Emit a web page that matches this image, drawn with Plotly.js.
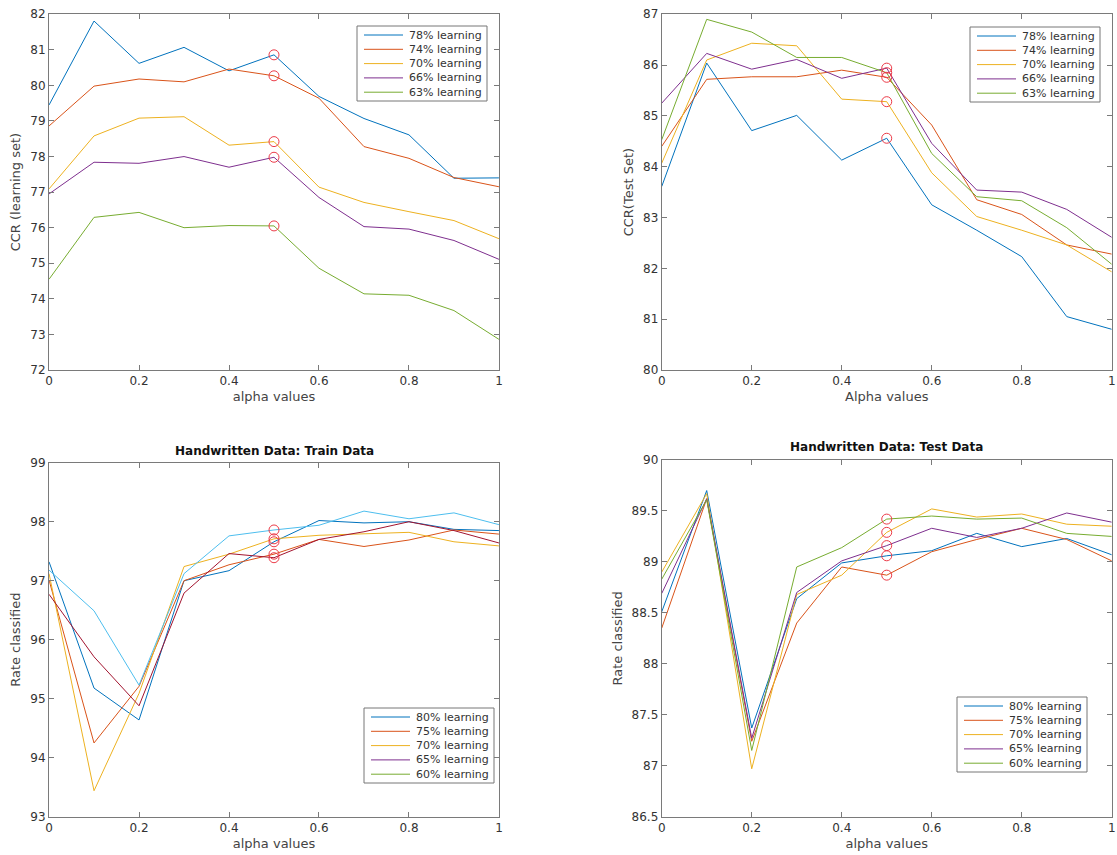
<!DOCTYPE html>
<html>
<head>
<meta charset="utf-8">
<script src="https://cdn.plot.ly/plotly-3.0.1.min.js"></script>
<style>
body { margin: 0; background: #fff; }
#chart { width: 1117px; height: 855px; }
</style>
</head>
<body>
<div id="chart"></div>
<script>
var alpha = [0, 0.1, 0.2, 0.3, 0.4, 0.5, 0.6, 0.7, 0.8, 0.9, 1];
var bestIdx = 5; // alpha = 0.5, red circles

/* CCR (learning set) */
var learnNames = ['78% learning', '74% learning', '70% learning', '66% learning', '63% learning'];
var learn78 = [79.45, 81.81, 80.62, 81.07, 80.41, 80.86, 79.69, 79.07, 78.61, 77.39, 77.40];
var learn74 = [78.86, 79.98, 80.18, 80.10, 80.46, 80.27, 79.64, 78.28, 77.95, 77.41, 77.15];
var learn70 = [77.09, 78.58, 79.08, 79.12, 78.32, 78.42, 77.14, 76.71, 76.45, 76.20, 75.69];
var learn66 = [76.95, 77.84, 77.81, 78.00, 77.70, 77.98, 76.85, 76.03, 75.96, 75.64, 75.11];
var learn63 = [74.55, 76.29, 76.43, 76.00, 76.06, 76.05, 74.86, 74.14, 74.10, 73.67, 72.86];

/* CCR (test set) */
var test78 = [83.61, 86.04, 84.71, 85.01, 84.13, 84.56, 83.25, 82.75, 82.23, 81.05, 80.80];
var test74 = [84.40, 85.72, 85.77, 85.77, 85.90, 85.76, 84.82, 83.35, 83.06, 82.46, 82.28];
var test70 = [84.07, 86.10, 86.43, 86.38, 85.33, 85.28, 83.88, 83.02, 82.75, 82.46, 81.93];
var test66 = [85.25, 86.23, 85.92, 86.11, 85.74, 85.94, 84.46, 83.54, 83.50, 83.16, 82.61];
var test63 = [84.53, 86.90, 86.65, 86.15, 86.15, 85.85, 84.26, 83.41, 83.33, 82.80, 82.08];

/* Handwritten train (line colours differ from legend in the original) */
var hwNames = ['80% learning', '75% learning', '70% learning', '65% learning', '60% learning'];
var trBlue  = [97.32, 95.18, 94.64, 97.00, 97.17, 97.66, 98.02, 97.98, 98.00, 97.87, 97.85];
var trOrange = [97.01, 94.25, 95.21, 97.00, 97.27, 97.45, 97.70, 97.58, 97.69, 97.86, 97.79];
var trYellow = [97.12, 93.44, 95.09, 97.24, 97.45, 97.71, 97.77, 97.80, 97.82, 97.66, 97.59];
var trDarkRed = [96.77, 95.71, 94.88, 96.79, 97.46, 97.39, 97.70, 97.83, 98.00, 97.85, 97.64];
var trLightBlue = [97.18, 96.49, 95.23, 97.12, 97.76, 97.86, 97.94, 98.18, 98.05, 98.15, 97.95];

/* Handwritten test */
var te80 = [88.51, 89.70, 87.37, 88.64, 88.99, 89.06, 89.11, 89.28, 89.15, 89.23, 89.07];
var te75 = [88.35, 89.62, 87.24, 88.40, 88.95, 88.87, 89.10, 89.22, 89.33, 89.22, 89.01];
var te70 = [88.90, 89.67, 86.97, 88.68, 88.87, 89.29, 89.52, 89.44, 89.47, 89.37, 89.35];
var te65 = [88.69, 89.62, 87.27, 88.70, 89.01, 89.16, 89.33, 89.24, 89.33, 89.48, 89.39];
var te60 = [88.83, 89.61, 87.15, 88.95, 89.14, 89.42, 89.45, 89.42, 89.43, 89.28, 89.25];

var cols = ['#0072BD', '#D95319', '#EDB120', '#7E2F8E', '#77AC30'];
var trCols = ['#0072BD', '#D95319', '#EDB120', '#A2142F', '#4DBEEE'];
var font = 'DejaVu Sans, Liberation Sans, sans-serif';
var W = 1117, H = 855;

var data = [];
var shapes = [];
var annotations = [];

function addPanel(series, lineCols, ax) {
  var circY = [];
  series.forEach(function(s, i) {
    data.push({
      x: alpha, y: s, mode: 'lines', type: 'scatter',
      xaxis: 'x' + ax, yaxis: 'y' + ax,
      line: {color: lineCols[i], width: 1}
    });
    circY.push(s[bestIdx]);
  });
  data.push({
    x: circY.map(function() { return alpha[bestIdx]; }), y: circY,
    mode: 'markers', type: 'scatter', xaxis: 'x' + ax, yaxis: 'y' + ax,
    marker: {symbol: 'circle-open', size: 10, color: '#ec3b48', line: {width: 1}},
    hoverinfo: 'skip'
  });
}

// MATLAB-like legend box (plotly's own legend rows are too tall)
function addLegend(left, top, names, legCols) {
  var px = function(v) { return v / W; };
  var py = function(v) { return 1 - v / H; };
  shapes.push({type: 'rect', xref: 'paper', yref: 'paper',
    x0: px(left), x1: px(left + 130), y0: py(top), y1: py(top + 75),
    line: {color: '#777', width: 1}, fillcolor: '#fff', layer: 'above'});
  names.forEach(function(n, i) {
    var yc = top + 9 + i * 14.3;
    shapes.push({type: 'line', xref: 'paper', yref: 'paper',
      x0: px(left + 7), x1: px(left + 46), y0: py(yc), y1: py(yc),
      line: {color: legCols[i], width: 1}, layer: 'above'});
    annotations.push({text: n, xref: 'paper', yref: 'paper', x: px(left + 50), y: py(yc),
      xanchor: 'left', yanchor: 'middle', showarrow: false,
      font: {family: font, size: 11, color: '#333'}});
  });
}

addPanel([learn78, learn74, learn70, learn66, learn63], cols, '');
addPanel([test78, test74, test70, test66, test63], cols, '2');
addPanel([trBlue, trOrange, trYellow, trDarkRed, trLightBlue], trCols, '3');
addPanel([te80, te75, te70, te65, te60], cols, '4');

addLegend(357, 26, learnNames, cols);
addLegend(970, 27, learnNames, cols);
addLegend(364, 708, hwNames, cols);
addLegend(957, 697, hwNames, cols);

annotations.push(
  {text: '<b>Handwritten Data: Train Data</b>', x: 0.2453, y: 0.4725, xref: 'paper', yref: 'paper',
   xanchor: 'center', yanchor: 'middle', showarrow: false, font: {family: font, size: 12, color: '#111'}},
  {text: '<b>Handwritten Data: Test Data</b>', x: 0.7937, y: 0.4772, xref: 'paper', yref: 'paper',
   xanchor: 'center', yanchor: 'middle', showarrow: false, font: {family: font, size: 12, color: '#111'}}
);

function xax(dom, anchor, title) {
  return {
    domain: dom, anchor: anchor, range: [0, 1], dtick: 0.2, tick0: 0,
    showline: true, mirror: 'ticks', linecolor: '#7a7a7a', linewidth: 1,
    ticks: 'inside', ticklen: 5, tickcolor: '#7a7a7a',
    showgrid: false, zeroline: false, automargin: false,
    tickfont: {family: font, size: 12, color: '#333'},
    title: {text: title, font: {family: font, size: 13, color: '#444'}, standoff: 4}
  };
}
function yax(dom, anchor, range, dt, title) {
  return {
    domain: dom, anchor: anchor, range: range, dtick: dt,
    showline: true, mirror: 'ticks', linecolor: '#7a7a7a', linewidth: 1,
    ticks: 'inside', ticklen: 5, tickcolor: '#7a7a7a',
    showgrid: false, zeroline: false, automargin: false,
    tickfont: {family: font, size: 12, color: '#333'},
    title: {text: title, font: {family: font, size: 13, color: '#444'}, standoff: 6}
  };
}

var xL = [0.0439, 0.4467], xR = [0.5924, 0.9953];
var yT = [0.5673, 0.9833], yBL = [0.0448, 0.4588], yBR = [0.0448, 0.4620];

var layout = {
  width: W, height: H,
  margin: {l: 0, r: 0, t: 0, b: 0},
  paper_bgcolor: '#fff', plot_bgcolor: '#fff',
  font: {family: font},
  showlegend: false,
  xaxis: xax(xL, 'y', 'alpha values'),
  yaxis: yax(yT, 'x', [72, 82], 1, 'CCR (learning set)'),
  xaxis2: xax(xR, 'y2', 'Alpha values'),
  yaxis2: yax(yT, 'x2', [80, 87], 1, 'CCR(Test Set)'),
  xaxis3: xax(xL, 'y3', 'alpha values'),
  yaxis3: yax(yBL, 'x3', [93, 99], 1, 'Rate classified'),
  xaxis4: xax(xR, 'y4', 'alpha values'),
  yaxis4: yax(yBR, 'x4', [86.5, 90], 0.5, 'Rate classified'),
  shapes: shapes,
  annotations: annotations
};

Plotly.newPlot('chart', data, layout, {displayModeBar: false, staticPlot: true});
</script>
</body>
</html>
